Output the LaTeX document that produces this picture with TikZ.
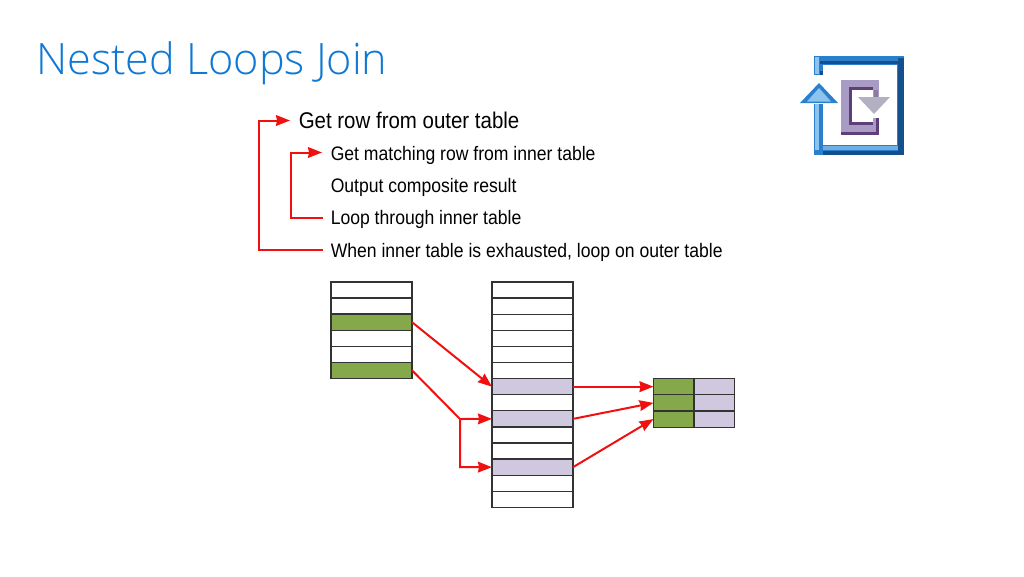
\documentclass[tikz,border=0pt]{standalone}
\usepackage{fontspec}
\setmainfont{Liberation Sans}[FakeStretch=0.9]
\newfontfamily\titlefont{Open Sans Light}
\usetikzlibrary{arrows.meta,calc}
\definecolor{titleblue}{HTML}{0F78D4}
\definecolor{cellgreen}{HTML}{85A84A}
\definecolor{celllilac}{HTML}{CFC8DF}
\definecolor{gridline}{HTML}{333333}
\definecolor{arrowred}{HTML}{F01010}
\definecolor{iconblue}{HTML}{2A80CC}
\definecolor{icondark}{HTML}{14508F}
\definecolor{iconlight}{HTML}{8CC4EE}
\definecolor{iconpurple}{HTML}{A89CC4}
\definecolor{icondeep}{HTML}{5E3F78}
\definecolor{icongrey}{HTML}{B4B0C4}
\tikzset{
  x=0.75pt,y=-0.75pt,
  cell/.style={draw=gridline,line width=0.95pt,fill=white,minimum width=60.75pt,minimum height=12.1pt,inner sep=0pt,outer sep=0pt,anchor=north west},
  halfcell/.style={cell,minimum width=30.4pt},
  green/.style={fill=cellgreen},
  lilac/.style={fill=celllilac},
  big/.style={font=\fontsize{17.05}{20}\selectfont,anchor=west,inner sep=0pt,text=black},
  small/.style={font=\fontsize{14.65}{17}\selectfont,anchor=west,inner sep=0pt,text=black},
  conn/.style={draw=arrowred,line width=1.5pt},
  arr/.style={conn,-{Stealth[inset=0.8pt,length=10.5pt,width=8pt]}},
}
\begin{document}
\begin{tikzpicture}
\useasboundingbox (0,0) rectangle (1024,576);
\fill[white] (0,0) rectangle (1024,576);
\node[anchor=west,inner sep=0pt,text=titleblue,font=\titlefont\fontsize{32.4}{40}\selectfont] (title) at (36,63.5) {Nested Loops Join};

\node[big] (t1) at (298.5,120) {Get row from outer table};
\node[small] (t2) at (330.5,155) {Get matching row from inner table};
\node[small] (t3) at (330.5,187) {Output composite result};
\node[small] (t4) at (330.5,219) {Loop through inner table};
\node[small] (t5) at (330.5,252) {When inner table is exhausted, loop on outer table};

\coordinate (a1) at (290,120.5);
\coordinate (b1) at (322,152.5);
\coordinate (a5) at (323,249.5);
\coordinate (b4) at (323,217.5);
\draw[arr] (a5) -| (258.5,120.5) -- (a1);
\draw[arr] (b4) -| (290.5,152.5) -- (b1);

% outer table
\foreach \i in {0,...,5}{
  \pgfmathsetmacro\yy{282+16.05*\i}
  \node[cell] (o\i) at (331,\yy) {};
}
\node[cell,green] (o2) at (331,314.1) {};
\node[cell,green] (o5) at (331,362.25) {};

% inner table
\foreach \i in {0,...,13}{
  \pgfmathsetmacro\yy{282+16.1*\i}
  \node[cell] (n\i) at (492,\yy) {};
}
\node[cell,lilac] (n6) at (492,378.6) {};
\node[cell,lilac] (n8) at (492,410.8) {};
\node[cell,lilac] (n11) at (492,459.1) {};

% result table
\node[halfcell,green] (r0a) at (653.5,378.6) {};
\node[halfcell,green] (r1a) at (653.5,394.8) {};
\node[halfcell,green] (r2a) at (653.5,411) {};
\node[halfcell,lilac] (r0b) at (694,378.6) {};
\node[halfcell,lilac] (r1b) at (694,394.8) {};
\node[halfcell,lilac] (r2b) at (694,411) {};

% connectors
\coordinate (fork) at (460,419);
\draw[arr] (o2.east) -- (n6.west);
\draw[conn] (o5.east) -- (fork);
\draw[arr] (fork) -- (n8.west);
\draw[arr] (fork) -- (460,467) -- (n11.west);
\draw[arr] (n6.east) -- (r0a.west);
\draw[arr] (n8.east) -- (r1a.west);
\draw[arr] (n11.east) -- (r2a.west);

% icon
\fill[iconblue] (814,56) rectangle (904,155);
\fill[white] (823,65) rectangle (897,145);
\fill[white] (800,75) rectangle (814,120);
\fill[white] (814,75) rectangle (823,145);
\fill[icondark] (898,58) rectangle (904,155);
\fill[icondark] (816,151) rectangle (904,155);
\fill[icondark] (820,71) rectangle (823,75);
\fill[icondark] (820,61) rectangle (904,64);
\fill[iconlight] (815,57) rectangle (819,74);
\fill[iconblue] (814,104) rectangle (823,155);
\fill[iconlight] (815,104) rectangle (819,150);
\fill[iconblue] (800,103) -- (819,83) -- (838,103) -- cycle;
\fill[iconlight] (807,101.5) -- (819,88) -- (831,101.5) -- cycle;
\fill[iconlight!70!iconblue] (823,146) rectangle (898,150);
% document glyph
\fill[iconpurple] (841,80) rectangle (879,135);
\fill[white] (852,88) rectangle (873,124);
\fill[white] (873,105) rectangle (879,118);
\fill[icondeep] (849,87) rectangle (852,125);
\fill[icondeep] (849,87) rectangle (873,89.5);
\fill[icondeep] (852,122) rectangle (873,125);
\fill[icondeep] (841,132) rectangle (879,135);
\fill[icondeep] (876,118) rectangle (879,135);
\fill[icondeep!70] (874,90) rectangle (878,97);
\fill[icongrey] (858,97) -- (890,97) -- (874,114) -- cycle;
\end{tikzpicture}
\end{document}
